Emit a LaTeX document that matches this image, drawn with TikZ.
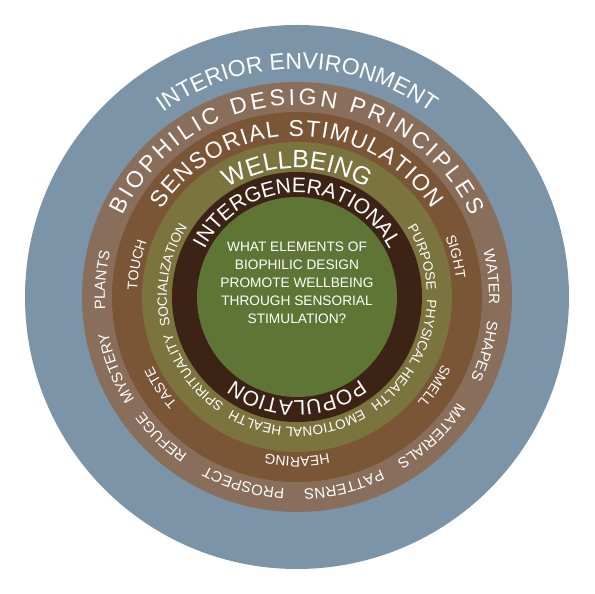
\documentclass[tikz,border=0pt]{standalone}
\usepackage{fontspec}
\setmainfont{Liberation Sans}
\usetikzlibrary{decorations.text}

\definecolor{envblue}{HTML}{7B94A7}
\definecolor{biobrown}{HTML}{8A6E5C}
\definecolor{sensebrown}{HTML}{7A5536}
\definecolor{wellolive}{HTML}{7C743E}
\definecolor{popdark}{HTML}{3C2315}
\definecolor{coregreen}{HTML}{5F7536}

\newcommand{\titlefont}{\fontsize{23}{27}\selectfont}
\newcommand{\wellfont}{\fontsize{25}{29}\selectfont}
\newcommand{\popfont}{\fontsize{21}{25}\selectfont}
\newcommand{\biofont}{\fontsize{15}{18}\selectfont}
\newcommand{\sensefont}{\fontsize{14}{17}\selectfont}
\newcommand{\olivefont}{\fontsize{13.5}{16}\selectfont}

\begin{document}
\begin{tikzpicture}[x=1pt, y=1pt,
    ringtext/.style 2 args={decorate, decoration={text along path, text align=center, text color=white, text={|#1|#2}}},
    spreadtext/.style 2 args={decorate, decoration={text along path, text align=fit to path, text color=white, text={|#1|#2}}}]
        \useasboundingbox (-297, -297) rectangle (298, 297);

        \fill[envblue] (0, 0) circle[radius=272];
        \fill[biobrown] (0, 0) circle[radius=215];
        \fill[sensebrown] (0, 0) circle[radius=185];
        \fill[wellolive] (0, 0) circle[radius=155];
        \fill[popdark] (0, 0) circle[radius=125];
        \fill[coregreen] (0, 0) circle[radius=100];

        \path[ringtext={\titlefont}{INTERIOR ENVIRONMENT}] (160:228) arc[start angle=160, end angle=20, radius=228];

        \path[spreadtext={\titlefont}{BIOPHILIC DESIGN PRINCIPLES}] (155:192) arc[start angle=155, end angle=25, radius=192];
        \path[ringtext={\biofont}{WATER}] (76:192) arc[start angle=76, end angle=-64, radius=192];
        \path[ringtext={\biofont}{SHAPES}] (54:192) arc[start angle=54, end angle=-86, radius=192];
        \path[ringtext={\biofont}{MATERIALS}] (24:192) arc[start angle=24, end angle=-116, radius=192];
        \path[ringtext={\biofont}{PATTERNS}] (-6:192) arc[start angle=-6, end angle=-146, radius=192];
        \path[ringtext={\biofont}{PROSPECT}] (-36:192) arc[start angle=-36, end angle=-176, radius=192];
        \path[ringtext={\biofont}{REFUGE}] (-64:192) arc[start angle=-64, end angle=-204, radius=192];
        \path[ringtext={\biofont}{MYSTERY}] (271.5:192) arc[start angle=271.5, end angle=131.5, radius=192];
        \path[ringtext={\biofont}{PLANTS}] (245:192) arc[start angle=245, end angle=105, radius=192];

        \path[spreadtext={\titlefont}{SENSORIAL STIMULATION}] (147:161) arc[start angle=147, end angle=33, radius=161];
        \path[ringtext={\sensefont}{SIGHT}] (84.3:160) arc[start angle=84.3, end angle=-55.7, radius=160];
        \path[ringtext={\sensefont}{SMELL}] (37:160) arc[start angle=37, end angle=-103, radius=160];
        \path[ringtext={\sensefont}{HEARING}] (-20:160) arc[start angle=-20, end angle=-160, radius=160];
        \path[ringtext={\sensefont}{TASTE}] (283.6:160) arc[start angle=283.6, end angle=143.6, radius=160];
        \path[ringtext={\sensefont}{TOUCH}] (238.6:160) arc[start angle=238.6, end angle=98.6, radius=160];

        \path[ringtext={\wellfont}{WELLBEING}] (160:129) arc[start angle=160, end angle=20, radius=129];
        \path[ringtext={\olivefont}{PURPOSE}] (87.5:130) arc[start angle=87.5, end angle=-52.5, radius=130];
        \path[ringtext={\olivefont}{PHYSICAL HEALTH}] (41.5:130) arc[start angle=41.5, end angle=-98.5, radius=130];
        \path[ringtext={\olivefont}{EMOTIONAL HEALTH}] (-20:130) arc[start angle=-20, end angle=-160, radius=130];
        \path[ringtext={\olivefont}{SPIRITUALITY}] (286:130) arc[start angle=286, end angle=146, radius=130];
        \path[ringtext={\olivefont}{SOCIALIZATION}] (240:130) arc[start angle=240, end angle=100, radius=130];

        \path[ringtext={\popfont}{INTERGENERATIONAL}] (160:104) arc[start angle=160, end angle=20, radius=104];
        \path[ringtext={\popfont}{POPULATION}] (-20:104) arc[start angle=-20, end angle=-160, radius=104];

        \node[text=white, align=center, font=\fontsize{13.7}{18}\selectfont] (question) at (0, 14) {WHAT ELEMENTS OF\\BIOPHILIC DESIGN\\PROMOTE WELLBEING\\THROUGH SENSORIAL\\STIMULATION?};
\end{tikzpicture}
\end{document}
